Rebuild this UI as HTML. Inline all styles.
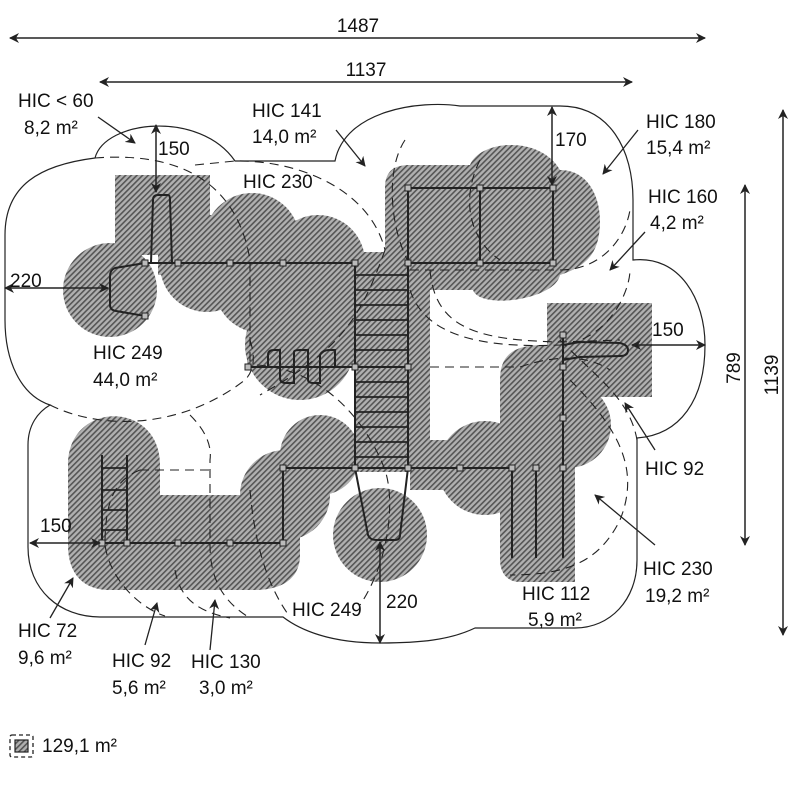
<!DOCTYPE html>
<html><head><meta charset="utf-8"><style>
html,body{margin:0;padding:0;background:#fff;}
svg{display:block;font-family:"Liberation Sans",sans-serif;}
</style></head><body>
<svg width="800" height="800" viewBox="0 0 800 800" xmlns="http://www.w3.org/2000/svg">
<defs>
<pattern id="h" width="4" height="4" patternUnits="userSpaceOnUse" patternTransform="rotate(45)">
<rect width="4" height="4" fill="#b0b0b0"/><rect width="1.6" height="4" fill="#555"/>
</pattern>
<marker id="a" markerWidth="10" markerHeight="10" refX="9" refY="5" orient="auto-start-reverse" markerUnits="userSpaceOnUse"><path d="M0,0 L10,5 L0,10 L3,5 Z" fill="#222"/></marker>
</defs>

<path d="M50,405 C20,395 5,360 5,320 L5,235 C5,185 40,165 95,158 C105,120 200,110 235,161 L335,161 C345,110 420,100 460,106 L560,106 C610,106 633,150 633,200 L633,260 C680,255 705,300 705,345 C705,400 680,435 637,438 L637,560 C637,600 610,628 575,628 L475,628 C450,640 420,643 380,643 C330,643 300,630 283,617 L100,617 C60,617 28,590 28,547 L28,445 C28,425 38,412 50,405 Z" fill="none" stroke="#222" stroke-width="1.2"/>

<g fill="url(#h)">
<rect x="115" y="175" width="95" height="80"/>
<circle cx="110" cy="290" r="47"/>
<rect x="158" y="215" width="95" height="60"/>
<circle cx="252" cy="241" r="48"/>
<circle cx="318" cy="262" r="47"/>
<circle cx="207" cy="265" r="47"/>
<circle cx="262" cy="285" r="48"/>
<rect x="247" y="255" width="108" height="110"/>
<circle cx="300" cy="345" r="55"/>
<rect x="355" y="252" width="75" height="220"/>
<path d="M385,188 C385,170 395,165 410,165 L470,165 C480,140 540,135 560,170 C590,170 600,200 600,220 C600,250 590,265 560,275 C555,300 480,310 473,290 L385,290 Z"/>
<rect x="410" y="440" width="110" height="50"/>
<circle cx="485" cy="468" r="47"/>
<rect x="547" y="303" width="105" height="94"/>
<path d="M500,380 C500,350 520,345 545,345 L575,345 L575,582 L520,582 C505,582 500,570 500,560 Z"/>
<circle cx="568" cy="425" r="43"/>
<circle cx="380" cy="535" r="47"/>
<circle cx="320" cy="455" r="40"/>
<circle cx="285" cy="495" r="45"/>
<path d="M68,465 C68,400 160,400 160,465 L160,495 L300,495 L300,555 C300,580 280,590 255,590 L110,590 C80,590 68,570 68,545 Z"/>
</g>

<g fill="none" stroke="#222" stroke-width="1.1" stroke-dasharray="9,6">
<path d="M95,158 C200,150 240,200 250,260 L250,365"/>
<path d="M50,405 C100,430 180,430 245,380 C255,370 255,355 250,340"/>
<path d="M190,415 C205,430 212,445 210,460 L210,545 C210,575 220,600 250,618"/>
<path d="M140,470 L210,470 M140,470 C115,480 105,500 105,545 C110,580 140,608 165,616"/>
<path d="M175,570 C180,600 200,612 230,618"/>
<path d="M250,490 C255,550 270,590 290,617"/>
<path d="M195,165 L235,161 C300,160 370,190 385,250"/>
<path d="M405,140 C385,170 390,230 410,265"/>
<path d="M410,270 L560,270"/>
<path d="M480,160 C460,200 470,240 500,260 M560,270 C600,270 625,240 630,210"/>
<path d="M385,250 C360,320 340,350 260,395"/>
<path d="M430,270 C435,330 480,340 560,342 L620,340"/>
<path d="M410,290 C420,320 450,350 560,345 C610,340 630,290 630,270"/>
<path d="M257,365 C330,370 370,430 385,470 C395,500 390,560 360,605"/>
<path d="M430,367 L520,367 C540,360 580,350 610,370"/>
<path d="M570,380 C620,430 640,470 620,520 C600,560 570,575 510,575"/>
<path d="M560,340 C600,380 630,400 637,440"/>
</g>

<g fill="none" stroke="#222" stroke-width="2">
<path d="M145,263 L355,263"/>
<path d="M145,263 L115,268 Q110,270 110,276 L110,305 Q110,310 116,311 L145,316"/>
<path d="M151,263 L153,200 Q153,195 158,195 L168,195 Q170,195 170,200 L172,263"/>
<path d="M355,263 L355,468 M408,263 L408,468 M408,188 L408,263"/>
<path d="M408,188 L553,188 L553,263 L408,263 M480,188 L480,263"/>
<path d="M248,367 L408,367"/>
<path d="M268,367 L268,355 Q268,350 274,350 L280,350 L280,378 Q280,383 286,383 L294,383 L294,352 Q294,350 300,350 L308,350 L308,380 Q308,383 314,383 L320,383 L320,355 Q322,350 330,350 L335,350 L335,367"/>
<path d="M283,468 L512,468 M283,468 L283,543"/>
<path d="M102,543 L283,543"/>
<path d="M102,455 L102,543 M127,455 L127,543"/>
<path d="M563,335 L563,558 M512,468 L512,558 M536,468 L536,558"/>
<path d="M355,468 L368,535 Q370,540 376,540 L395,540 Q400,540 400,535 L408,468"/>
<path d="M563,345 L580,342 L620,343 Q628,345 628,350 Q628,356 620,356 L580,357 L563,360"/>
</g>
<g stroke="#222" stroke-width="1.8">
<path d="M355,275H408M355,290H408M355,305H408M355,320H408M355,335H408M355,350H408M355,382H408M355,397H408M355,412H408M355,427H408M355,442H408M355,457H408"/>
<path d="M102,468H127M102,490H127M102,510H127M102,530H127"/>
</g>
<g fill="#bbb" stroke="#222" stroke-width="1">
<rect x="142" y="260" width="6" height="6"/><rect x="175" y="260" width="6" height="6"/><rect x="227" y="260" width="6" height="6"/><rect x="280" y="260" width="6" height="6"/><rect x="352" y="260" width="6" height="6"/><rect x="405" y="260" width="6" height="6"/><rect x="477" y="260" width="6" height="6"/><rect x="550" y="260" width="6" height="6"/>
<rect x="405" y="185" width="6" height="6"/><rect x="477" y="185" width="6" height="6"/><rect x="550" y="185" width="6" height="6"/><rect x="142" y="313" width="6" height="6"/>
<rect x="245" y="364" width="6" height="6"/><rect x="352" y="364" width="6" height="6"/><rect x="405" y="364" width="6" height="6"/>
<rect x="280" y="465" width="6" height="6"/><rect x="352" y="465" width="6" height="6"/><rect x="405" y="465" width="6" height="6"/><rect x="457" y="465" width="6" height="6"/><rect x="509" y="465" width="6" height="6"/><rect x="533" y="465" width="6" height="6"/><rect x="560" y="465" width="6" height="6"/>
<rect x="99" y="540" width="6" height="6"/><rect x="124" y="540" width="6" height="6"/><rect x="175" y="540" width="6" height="6"/><rect x="227" y="540" width="6" height="6"/><rect x="280" y="540" width="6" height="6"/>
<rect x="560" y="332" width="6" height="6"/><rect x="560" y="364" width="6" height="6"/><rect x="560" y="415" width="6" height="6"/>
</g>

<g stroke="#222" stroke-width="1.5" fill="none" marker-start="url(#a)" marker-end="url(#a)">
<line x1="10" y1="38" x2="705" y2="38"/>
<line x1="100" y1="82" x2="632" y2="82"/>
<line x1="783" y1="110" x2="783" y2="635"/>
<line x1="745" y1="185" x2="745" y2="545"/>
<line x1="156" y1="125" x2="156" y2="192"/>
<line x1="552" y1="107" x2="552" y2="185"/>
<line x1="5" y1="288" x2="108" y2="288"/>
<line x1="632" y1="345" x2="705" y2="345"/>
<line x1="30" y1="543" x2="100" y2="543"/>
<line x1="380" y1="542" x2="380" y2="643"/>
</g>
<g stroke="#222" stroke-width="1.3" fill="none" marker-end="url(#a)">
<line x1="98" y1="117" x2="135" y2="143"/>
<line x1="336" y1="130" x2="365" y2="166"/>
<line x1="638" y1="130" x2="603" y2="174"/>
<line x1="645" y1="232" x2="610" y2="270"/>
<line x1="655" y1="450" x2="625" y2="403"/>
<line x1="655" y1="545" x2="595" y2="495"/>
<line x1="50" y1="618" x2="73" y2="578"/>
<line x1="145" y1="645" x2="157" y2="603"/>
<line x1="210" y1="650" x2="215" y2="600"/>
</g>

<g font-size="19" fill="#111">
<text x="358" y="32" text-anchor="middle">1487</text>
<text x="366" y="76" text-anchor="middle">1137</text>
<text x="158" y="155">150</text>
<text x="555" y="146">170</text>
<text x="10" y="287">220</text>
<text x="652" y="336">150</text>
<text x="40" y="532">150</text>
<text x="386" y="608">220</text>
<text transform="translate(778,375) rotate(-90)" text-anchor="middle">1139</text>
<text transform="translate(740,368) rotate(-90)" text-anchor="middle">789</text>
<text x="18" y="107">HIC &lt; 60</text><text x="24" y="134">8,2 m²</text>
<text x="252" y="117">HIC 141</text><text x="252" y="143">14,0 m²</text>
<text x="243" y="188">HIC 230</text>
<text x="646" y="128">HIC 180</text><text x="646" y="154">15,4 m²</text>
<text x="648" y="203">HIC 160</text><text x="650" y="229">4,2 m²</text>
<text x="93" y="359">HIC 249</text><text x="93" y="386">44,0 m²</text>
<text x="645" y="475">HIC 92</text>
<text x="643" y="575">HIC 230</text><text x="645" y="602">19,2 m²</text>
<text x="522" y="600">HIC 112</text><text x="528" y="626">5,9 m²</text>
<text x="292" y="616">HIC 249</text>
<text x="18" y="637">HIC 72</text><text x="18" y="664">9,6 m²</text>
<text x="112" y="667">HIC 92</text><text x="112" y="694">5,6 m²</text>
<text x="191" y="668">HIC 130</text><text x="199" y="694">3,0 m²</text>
<text x="42" y="752">129,1 m²</text>
</g>
<rect x="10" y="735" width="23" height="22" rx="2" fill="none" stroke="#222" stroke-width="1.3" stroke-dasharray="4,3"/>
<rect x="15" y="740" width="13" height="12" fill="url(#h)" stroke="#222" stroke-width="1.2"/>
</svg>
</body></html>
